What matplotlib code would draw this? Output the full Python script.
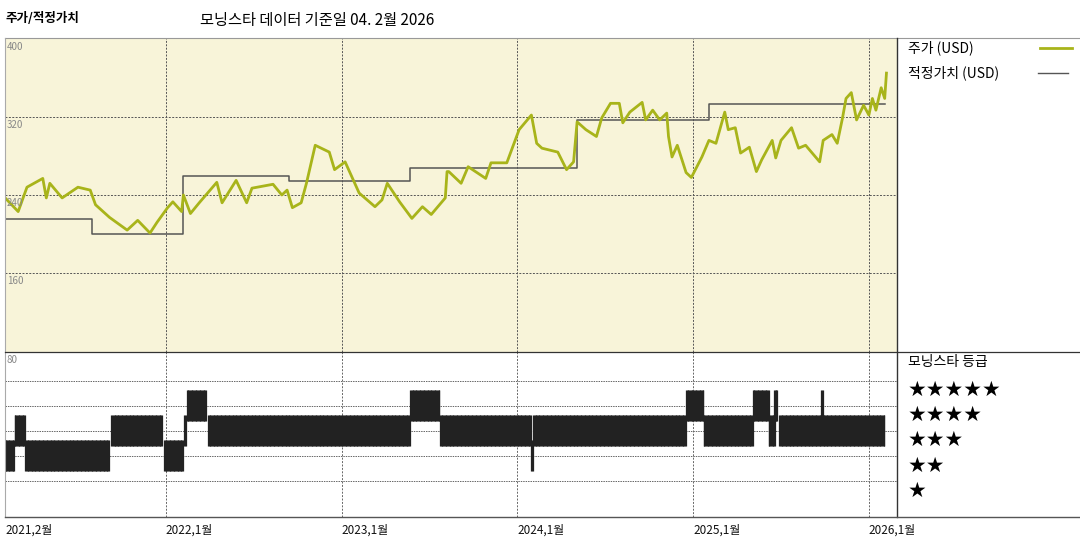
import matplotlib
matplotlib.use("Agg")
import matplotlib.pyplot as plt
from matplotlib.lines import Line2D
import numpy as np

plt.rcParams['font.family'] = ['Noto Sans CJK KR', 'DejaVu Sans']

price_t = [2021.07,2021.16,2021.21,2021.30,2021.32,2021.34,2021.41,2021.50,2021.57,2021.60,2021.68,2021.78,2021.84,2021.91,2021.95,2022.01,2022.04,2022.09,2022.10,2022.14,2022.19,2022.29,2022.32,2022.40,2022.46,2022.49,2022.61,2022.66,2022.69,2022.72,2022.77,2022.80,2022.85,2022.93,2022.96,2023.02,2023.10,2023.19,2023.23,2023.26,2023.33,2023.40,2023.46,2023.51,2023.59,2023.60,2023.61,2023.68,2023.72,2023.82,2023.85,2023.94,2024.01,2024.08,2024.11,2024.14,2024.23,2024.28,2024.32,2024.34,2024.39,2024.45,2024.48,2024.53,2024.58,2024.60,2024.64,2024.71,2024.73,2024.77,2024.81,2024.85,2024.86,2024.88,2024.91,2024.96,2024.99,2025.05,2025.09,2025.13,2025.18,2025.20,2025.24,2025.27,2025.32,2025.36,2025.39,2025.45,2025.47,2025.50,2025.56,2025.60,2025.64,2025.72,2025.74,2025.79,2025.82,2025.85,2025.87,2025.90,2025.93,2025.97,2026.00,2026.02,2026.04,2026.07,2026.09,2026.10]
price_v = [240,223,248,257,237,252,237,248,245,230,217,204,214,201,212,227,233,223,240,221,232,253,232,255,232,247,251,240,245,227,232,252,291,284,266,274,242,228,235,252,233,216,228,220,237,264,264,252,269,257,273,273,307,322,293,288,284,266,274,315,307,300,319,334,334,314,325,335,317,327,317,324,300,279,291,263,258,279,296,293,325,307,309,283,289,264,276,296,278,296,309,288,291,274,296,302,293,319,339,345,317,332,322,339,327,350,339,365]

fv_t = [2021.08,2021.58,2022.10,2022.70,2023.39,2024.34,2025.09,2026.09]
fv_v = [215,200,259,254,268,317,333,333]

rating_4 = [(2022.12,2022.23),(2023.39,2023.56),(2024.96,2025.06),(2025.34,2025.43),(2025.46,2025.48),(2025.73,2025.74)]
rating_3 = [(2021.14,2021.20),(2021.69,2021.98),(2022.105,2022.115),(2022.24,2023.39),(2023.56,2024.08),(2024.09,2024.96),(2025.06,2025.34),(2025.43,2025.47),(2025.49,2026.09)]
rating_2 = [(2021.07,2021.14),(2021.20,2021.68),(2021.99,2022.10),(2024.08,2024.09)]

year_ticks = [2022,2023,2024,2025,2026]
tick_labels = ['2021,2월','2022,1월','2023,1월','2024,1월','2025,1월','2026,1월']
y_ticks = [400,320,240,160,80]

W, H = 1080, 540
fig = plt.figure(figsize=(10.8,5.4), dpi=100)
def fx(px): return px/W
def fy(py): return 1-py/H

x0, x1 = 2021.085, 2026.16
ax = fig.add_axes([fx(5), fy(352), fx(897)-fx(5), fy(38)-fy(352)])
ax.set_facecolor('#f8f4d9')
ax.set_xlim(x0, x1); ax.set_ylim(79, 401)
for yv in [320,240,160]:
    ax.axhline(yv, color='#555', lw=0.7, ls=(0,(2,1.5)))
for xv in year_ticks:
    ax.axvline(xv, color='#555', lw=0.7, ls=(0,(2,1.5)))
ax.step(fv_t, fv_v, where='post', color='#555555', lw=1.1)
ax.plot(price_t, price_v, color='#a8b41a', lw=2.0)
for yv in y_ticks[:-1]:
    ax.text(x0+0.01, yv-3, str(yv), fontsize=7, color='#888', va='top', ha='left')
ax.set_xticks([]); ax.set_yticks([])
for s in ax.spines.values(): s.set_visible(False)

bx = fig.add_axes([fx(5), fy(517), fx(897)-fx(5), fy(352)-fy(517)])
bx.set_xlim(x0, x1); bx.set_ylim(-0.45, 6.15)
for r in [1,2,3,4,5]:
    bx.axhline(r, color='#666', lw=0.7, ls=(0,(1.5,1)))
for xv in year_ticks:
    bx.axvline(xv, color='#666', lw=0.7, ls=(0,(2,1.5)))
for level, segs in [(4,rating_4),(3,rating_3),(2,rating_2)]:
    for a, b in segs:
        xs = np.arange(a, b+1e-9, 0.0045)
        if len(xs) < 2: xs = np.array([a, b])
        bx.vlines(xs, level-0.62, level+0.62, color='#222', lw=0.9)
bx.text(x0+0.01, 6.05, '80', fontsize=7, color='#888', va='top')
bx.set_xticks([]); bx.set_yticks([])
for s in bx.spines.values(): s.set_visible(False)

for xv, lab in zip([x0]+year_ticks, tick_labels):
    px = 5 + (xv-x0)/(x1-x0)*892
    fig.text(fx(px), fy(530), lab, fontsize=8.5, ha='left', va='center', color='#111')

def fl(xa, ya, xb, yb, c='#333', lw=1.0):
    fig.add_artist(Line2D([fx(xa), fx(xb)], [fy(ya), fy(yb)], color=c, lw=lw))
fl(5, 38, 1080, 38, '#999', 0.8)
fl(5, 38, 5, 517, '#aaa', 0.8)
fl(897, 38, 897, 517, '#333', 1.0)
fl(5, 352, 1080, 352, '#333', 0.9)
fl(5, 517, 1080, 517, '#555', 1.0)

fig.text(fx(5), fy(18), '주가/적정가치', fontsize=9, fontweight='bold', va='center')
fig.text(fx(200), fy(20), '모닝스타 데이터 기준일 04. 2월 2026', fontsize=11, va='center')
fig.text(fx(908), fy(48), '주가 (USD)', fontsize=10, va='center')
fl(1040, 48, 1072, 48, '#a8b41a', 2.0)
fig.text(fx(908), fy(73), '적정가치 (USD)', fontsize=10, va='center')
fl(1038, 73, 1068, 73, '#555', 1.0)
fig.text(fx(908), fy(362), '모닝스타 등급', fontsize=10, va='center')
for i, yy in enumerate([390, 415, 440, 466, 491]):
    fig.text(fx(908), fy(yy), '★'*(5-i), fontsize=15, va='center', family=['DejaVu Sans'])

fig.savefig('out.png', dpi=100)
